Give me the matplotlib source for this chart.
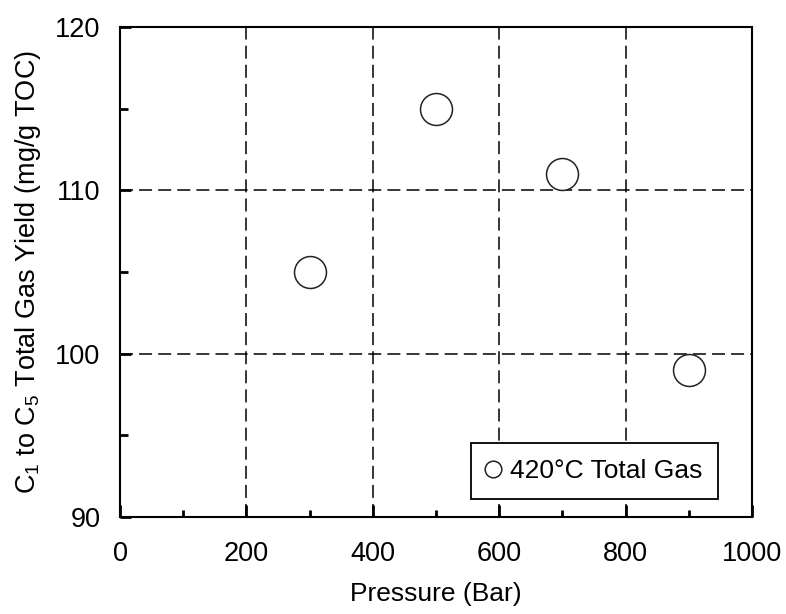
import matplotlib
matplotlib.use("Agg")
import matplotlib.pyplot as plt
from matplotlib.ticker import MultipleLocator

plt.rcParams['font.family'] = ['Liberation Sans', 'DejaVu Sans']
plt.rcParams['mathtext.fontset'] = 'custom'
plt.rcParams['mathtext.rm'] = 'Liberation Sans'
plt.rcParams['mathtext.it'] = 'Liberation Sans'

# data
pressure = [300, 500, 700, 900]
total_gas = [105, 115, 111, 99]
series_label = "420°C Total Gas"

x_label = "Pressure (Bar)"
y_label = r"C$_\mathregular{1}$ to C$_\mathregular{5}$ Total Gas Yield (mg/g TOC)"

fig = plt.figure(figsize=(7.86, 6.14), dpi=100)
ax = fig.add_axes([120 / 786, 1 - 517 / 614, 632 / 786, 490 / 614])

ax.plot(pressure, total_gas, linestyle="none", marker="o", markersize=23,
        markerfacecolor="white", markeredgecolor="#222222", markeredgewidth=1.1,
        label=series_label, zorder=3)

ax.set_xlim(0, 1000)
ax.set_ylim(90, 120)
ax.xaxis.set_major_locator(MultipleLocator(200))
ax.xaxis.set_minor_locator(MultipleLocator(100))
ax.yaxis.set_major_locator(MultipleLocator(10))
ax.yaxis.set_minor_locator(MultipleLocator(5))

ax.grid(True, which="major", color="black", linewidth=1.1, dashes=(8.5, 4))
ax.set_axisbelow(True)

ax.tick_params(axis="both", which="both", direction="in", color="black", labelsize=19.5)
ax.tick_params(axis="x", which="major", length=9, width=2, pad=17)
ax.tick_params(axis="x", which="minor", length=5, width=2)
ax.tick_params(axis="y", which="major", length=8, width=2, pad=14)
ax.tick_params(axis="y", which="minor", length=6, width=2)

for s in ax.spines.values():
    s.set_linewidth(1.5)
    s.set_color("black")

ax.set_xlabel(x_label, fontsize=19, labelpad=11)
ax.set_ylabel(y_label, fontsize=19.5, labelpad=9)

leg = ax.legend(loc="lower right", bbox_to_anchor=(0.946, 0.037), markerscale=0.52,
                fontsize=19, frameon=True, fancybox=False, borderpad=0.6,
                handletextpad=0.38, handlelength=0.5, borderaxespad=0)
leg.get_frame().set_edgecolor("black")
leg.get_frame().set_linewidth(1.3)
leg.get_frame().set_alpha(1)

fig.savefig("out.png", dpi=100)
